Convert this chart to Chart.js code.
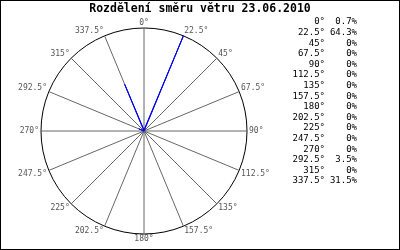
<!DOCTYPE html>
<html>
<head>
<meta charset="utf-8">
<script src="https://cdn.jsdelivr.net/npm/chart.js@4/dist/chart.umd.min.js"></script>
<style>
html,body{margin:0;padding:0;background:#fff;}
#wrap{position:relative;width:400px;height:250px;}
</style>
</head>
<body>
<div id="wrap"><canvas id="c" width="400" height="250"></canvas></div>
<script>
const chartTitle = 'Rozdělení směru větru 23.06.2010';
const directions = [0, 22.5, 45, 67.5, 90, 112.5, 135, 157.5, 180, 202.5, 225, 247.5, 270, 292.5, 315, 337.5];
const frequency = [0.7, 64.3, 0, 0, 0, 0, 0, 0, 0, 0, 0, 0, 0, 3.5, 0, 31.5];
const scaleMax = 64.3;

const labels = directions.map(d => d + '°');

const decorPlugin = {
  id: 'decor',
  afterDraw(chart) {
    const ctx = chart.ctx;
    ctx.save();
    ctx.fillStyle = '#000';
    ctx.textBaseline = 'middle';
    ctx.textAlign = 'center';
    ctx.font = 'bold 11.5px "DejaVu Sans Mono"';
    ctx.fillText(chartTitle, 200, 9);
    ctx.font = '9px "DejaVu Sans Mono"';
    for (let i = 0; i < directions.length; i++) {
      const y = 22 + i * 10.6;
      ctx.textAlign = 'right';
      ctx.fillText(labels[i], 325, y);
      ctx.fillText(frequency[i] + '%', 357, y);
    }
    ctx.strokeStyle = '#000';
    ctx.lineWidth = 1;
    ctx.strokeRect(0.5, 0.5, 399, 249);
    ctx.restore();
  }
};

new Chart(document.getElementById('c'), {
  type: 'radar',
  data: {
    labels: labels,
    datasets: [{
      data: frequency,
      borderColor: '#0000ff',
      borderWidth: 1,
      fill: false,
      pointRadius: 0,
      pointHoverRadius: 0
    }]
  },
  options: {
    responsive: false,
    animation: false,
    devicePixelRatio: 1,
    layout: { padding: { left: 0, right: 112, top: 20.4, bottom: 8 } },
    plugins: {
      legend: { display: false },
      tooltip: { enabled: false },
      title: { display: false }
    },
    scales: {
      r: {
        min: 0,
        max: scaleMax,
        ticks: { display: false, count: 2 },
        grid: { circular: true, color: '#000', lineWidth: 1 },
        angleLines: { color: '#666', lineWidth: 1 },
        pointLabels: {
          color: '#555',
          font: { family: 'DejaVu Sans Mono', size: 8, lineHeight: 0.7 },
          padding: 2
        }
      }
    }
  },
  plugins: [decorPlugin]
});
</script>
</body>
</html>
